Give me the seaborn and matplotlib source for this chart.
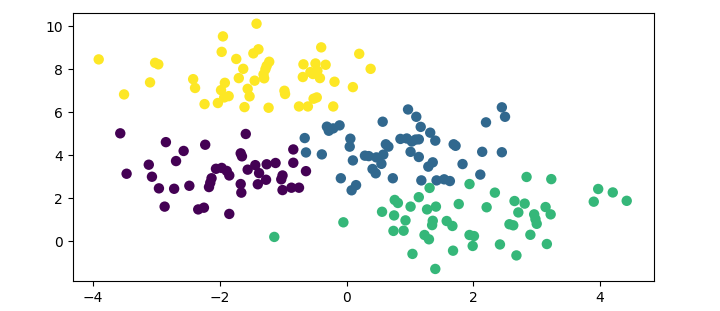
import matplotlib
matplotlib.use("Agg")
import matplotlib.pyplot as plt
import seaborn as sns
import pandas as pd

purple_x = [-3.57, -2.85, -2.57, -2.23, -1.59, -1.67, -1.65, -2.69, -3.12, -3.47, -3.07, -2.96, -2.72, -2.48,
            -2.87, -2.34, -2.25, -1.85, -2.06, -1.97, -1.89, -1.85, -2.13, -2.15, -2.17, -1.67, -1.66, -1.56,
            -1.44, -1.38, -1.26, -1.12, -1.27, -1.40, -0.84, -0.84, -0.64, -1.01, -1.03, -1.01, -0.87, -0.75]
purple_y = [5.01, 4.60, 4.19, 4.48, 4.98, 4.08, 3.94, 3.72, 3.55, 3.13, 2.99, 2.45, 2.43, 2.57,
            1.60, 1.47, 1.55, 1.26, 3.36, 3.40, 3.26, 3.05, 2.92, 2.71, 2.51, 2.65, 2.25, 3.32,
            3.53, 3.16, 3.57, 3.63, 2.85, 2.64, 4.26, 3.64, 3.25, 3.05, 2.87, 2.37, 2.48, 2.48]

blue_x = [0.97, 1.10, 1.17, 1.32, 1.40, 0.57, -0.31, -0.21, -0.11, -0.28, -0.66, 0.06, 0.85, 0.95, 1.09,
          1.03, 1.14, 1.69, 1.72, 0.62, 0.66, 2.45, 2.50, 2.20, 2.14, 2.45, -0.64, -0.39, 0.05, 0.10,
          0.29, 0.35, 0.47, 0.58, 0.41, 0.46, 0.55, 0.73, -0.09, 0.15, 0.08, 1.01, 1.14, 1.36, 1.29,
          1.18, 1.42, 1.54, 1.63, 1.83, 2.11]
blue_y = [6.12, 5.78, 5.31, 5.04, 4.67, 5.55, 5.32, 5.24, 5.38, 5.13, 4.79, 4.76, 4.75, 4.77, 4.72,
          4.63, 4.73, 4.50, 4.43, 4.50, 4.39, 6.22, 5.78, 5.52, 4.15, 4.13, 4.12, 4.03, 4.39, 3.75,
          3.97, 3.95, 3.89, 4.02, 3.35, 3.15, 3.59, 2.92, 2.92, 2.60, 2.36, 4.15, 3.91, 3.66, 3.46,
          2.82, 2.82, 2.87, 2.79, 3.58, 3.09]

green_x = [-1.14, -0.05, 0.56, 0.76, 0.81, 0.75, 0.93, 0.74, 0.90, 1.01, 1.14, 1.31, 1.27, 1.41, 1.36,
           1.35, 1.23, 1.30, 1.04, 1.40, 1.58, 1.67, 1.77, 1.68, 1.94, 2.84, 3.23, 2.34, 2.21, 2.65,
           2.81, 2.71, 3.14, 3.22, 2.96, 2.98, 3.00, 2.57, 2.63, 2.90, 3.16, 1.94, 2.01, 1.99, 2.42,
           2.68, 3.97, 4.20, 4.42, 3.90]
green_y = [0.19, 0.87, 1.36, 1.91, 1.77, 1.19, 0.96, 0.47, 0.48, 1.60, 2.04, 2.47, 1.47, 1.60, 0.94,
           0.74, 0.28, 0.08, -0.60, -1.30, 0.93, 0.70, 1.72, -0.45, 2.65, 2.98, 2.88, 2.25, 1.57, 1.86,
           1.74, 1.33, 1.58, 1.24, 1.24, 1.02, 0.80, 0.78, 0.73, 0.29, -0.14, 0.28, 0.23, -0.23, -0.16,
           -0.67, 2.42, 2.26, 1.87, 1.83]

yellow_x = [-3.91, -3.51, -3.02, -2.97, -3.10, -1.42, -1.95, -1.97, -1.74, -1.47, -1.39, -1.22, -1.26,
            -1.28, -1.31, -1.30, -1.63, -1.70, -1.45, -2.42, -2.39, -1.92, -1.98, -1.56, -1.53, -1.93,
            -1.86, -2.03, -2.24, -1.61, -1.23, -0.40, 0.20, 0.38, -0.68, -0.49, -0.33, -0.57, -0.46,
            -0.53, -0.69, -0.42, -0.19, 0.10, -0.98, -0.97, -0.52, -0.47, -0.75, -0.61, -0.21]
yellow_y = [8.45, 6.82, 8.29, 8.22, 7.38, 10.11, 9.52, 8.80, 8.47, 8.73, 8.92, 8.34, 8.15,
            7.99, 7.75, 7.57, 8.01, 7.58, 7.46, 7.53, 7.12, 7.36, 7.02, 7.08, 6.73, 6.68,
            6.74, 6.42, 6.37, 6.23, 6.20, 9.01, 8.71, 8.01, 8.22, 8.26, 8.20, 7.86, 7.92,
            7.77, 7.63, 7.58, 7.41, 7.16, 6.99, 6.84, 6.62, 6.68, 6.26, 6.26, 6.26]

cmap = plt.get_cmap("viridis")
palette = {0: cmap(0.0), 1: cmap(1 / 3), 2: cmap(2 / 3), 3: cmap(1.0)}

df = pd.concat([
    pd.DataFrame({"x": purple_x, "y": purple_y, "label": 0}),
    pd.DataFrame({"x": blue_x, "y": blue_y, "label": 1}),
    pd.DataFrame({"x": green_x, "y": green_y, "label": 2}),
    pd.DataFrame({"x": yellow_x, "y": yellow_y, "label": 3}),
], ignore_index=True)

fig, ax = plt.subplots(figsize=(7.2, 3.11), dpi=100)
sns.scatterplot(data=df, x="x", y="y", hue="label", palette=palette, s=56,
                linewidth=0, legend=False, ax=ax)
ax.set_xlim(-4.32, 4.85)
ax.set_ylim(-1.86, 10.62)
ax.set_xticks([-4, -2, 0, 2, 4])
ax.set_yticks([0, 2, 4, 6, 8, 10])
ax.set_xlabel("")
ax.set_ylabel("")
fig.subplots_adjust(left=0.101, right=0.9083, top=0.959, bottom=0.0965)
fig.savefig("out.png", dpi=100)
